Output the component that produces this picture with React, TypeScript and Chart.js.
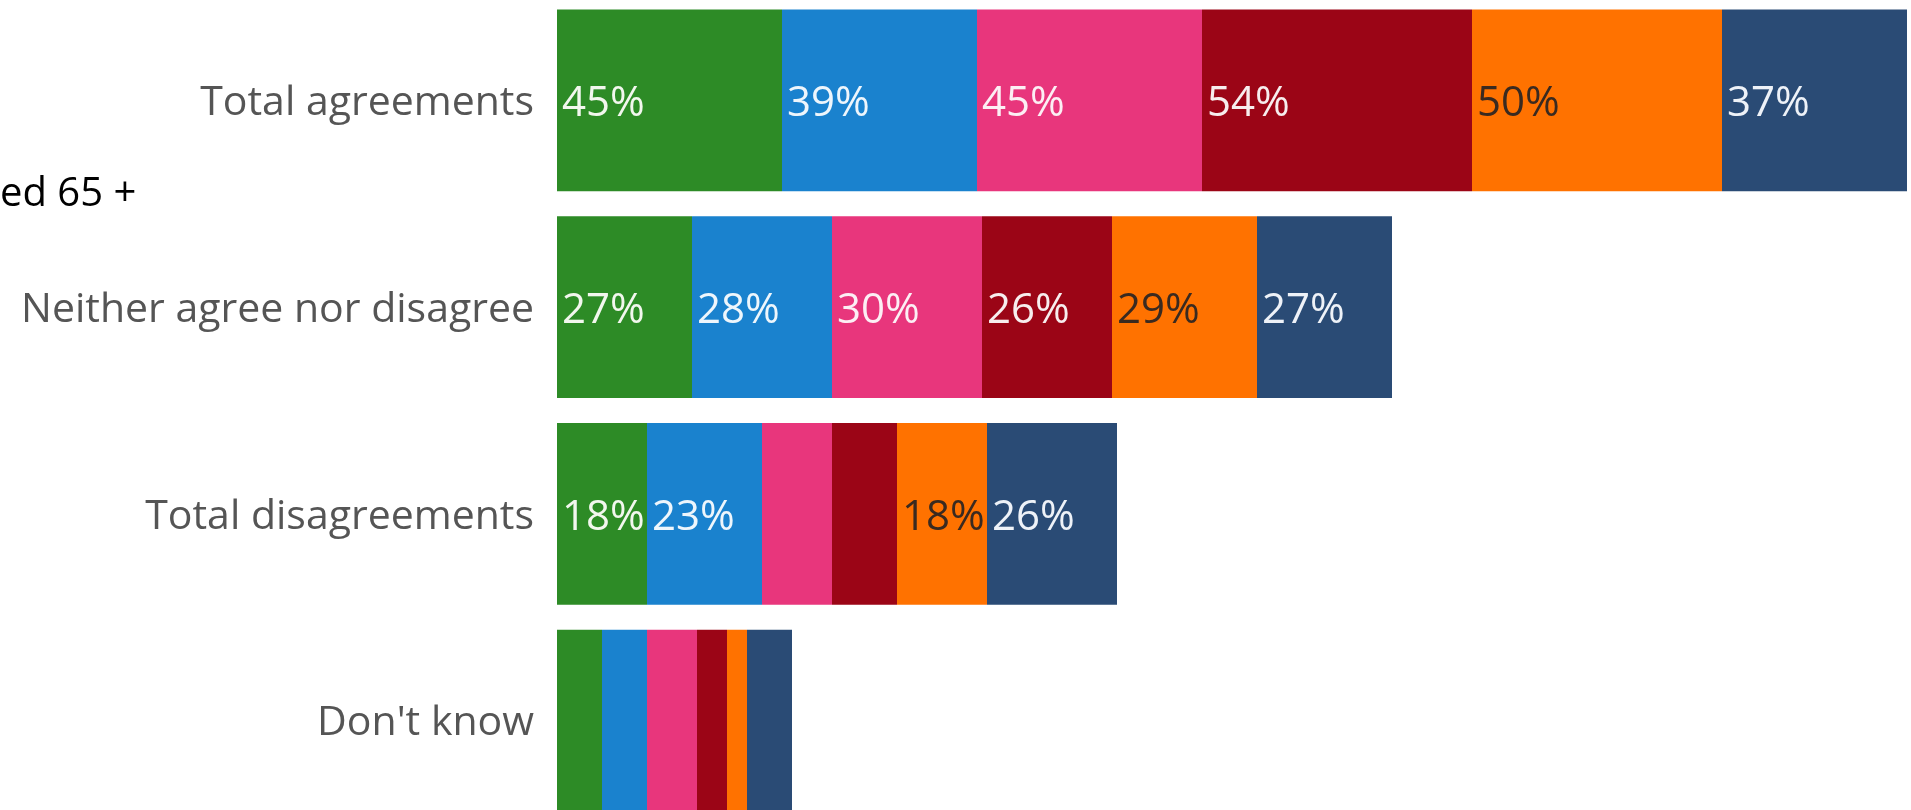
import React, { useEffect, useRef } from "react";
import { Chart, registerables } from "chart.js";

Chart.register(...registerables);

const categories = ["Total agreements", "Neither agree nor disagree", "Total disagreements", "Don't know"];

const seriesA = [45, 27, 18, 9];
const seriesB = [39, 28, 23, 9];
const seriesC = [45, 30, 14, 10];
const seriesD = [54, 26, 13, 6];
const seriesE = [50, 29, 18, 4];
const seriesF = [37, 27, 26, 9];

const seriesValues = [seriesA, seriesB, seriesC, seriesD, seriesE, seriesF];
const seriesColors = ["#2D8B26", "#1A82CE", "#E8367C", "#9B0516", "#FF7200", "#2A4B75"];
const labelColors = ["#F2F7EE", "#EEF6FC", "#FCEFF4", "#F7EEEE", "#3A2A20", "#EEF2F8"];

const legendFragment = "ed 65 +";

const FONT = "'Open Sans', 'Noto Sans', sans-serif";

const segmentLabels = {
  id: "segmentLabels",
  afterDatasetsDraw(chart: any) {
    const ctx = chart.ctx;
    ctx.save();
    ctx.font = `42px ${FONT}`;
    ctx.textBaseline = "middle";
    ctx.textAlign = "left";
    chart.data.datasets.forEach((ds: any, di: number) => {
      const meta = chart.getDatasetMeta(di);
      meta.data.forEach((el: any, i: number) => {
        const v = ds.data[i];
        const text = `${v}%`;
        const start = Math.min(el.x, el.base);
        const w = Math.abs(el.x - el.base);
        const tw = ctx.measureText(text).width;
        if (tw + 4 <= w) {
          ctx.fillStyle = labelColors[di];
          ctx.fillText(text, start + 5, el.y + 4);
        }
      });
    });
    ctx.restore();
  },
};

export default function App() {
  const canvasRef = useRef<HTMLCanvasElement | null>(null);

  useEffect(() => {
    if (!canvasRef.current) return;
    const chart = new Chart(canvasRef.current, {
      type: "bar",
      data: {
        labels: categories,
        datasets: seriesValues.map((vals, i) => ({
          label: `Series ${i + 1}`,
          data: vals,
          backgroundColor: seriesColors[i],
          borderWidth: 0,
          categoryPercentage: 1,
          barPercentage: 0.88,
        })),
      },
      options: {
        indexAxis: "y",
        animation: false,
        responsive: false,
        maintainAspectRatio: false,
        layout: { padding: { left: 0, right: 4, top: 0, bottom: 0 } },
        plugins: {
          legend: { display: false },
          tooltip: { enabled: false },
        },
        scales: {
          x: {
            stacked: true,
            min: 0,
            max: 270,
            display: false,
          },
          y: {
            stacked: true,
            grid: { display: false, drawTicks: false },
            border: { display: false },
            ticks: {
              padding: 23,
              labelOffset: 3,
              color: "#555555",
              font: { family: FONT, size: 41 },
            },
            afterFit(scale: any) {
              scale.width = 557;
              scale.paddingTop = 0;
              scale.paddingBottom = 0;
            },
          },
        },
      },
      plugins: [segmentLabels],
    });
    return () => chart.destroy();
  }, []);

  return (
    <div style={{ position: "fixed", left: 0, top: 0, width: 1911, height: 810, overflow: "hidden", background: "#fff" }}>
      <canvas
        ref={canvasRef}
        width={1911}
        height={827}
        style={{ position: "absolute", left: 0, top: -3, width: 1911, height: 827 }}
      />
      <div
        style={{
          position: "absolute",
          left: 0,
          top: 171,
          fontFamily: FONT,
          fontSize: 40,
          lineHeight: 1,
          color: "#000",
          whiteSpace: "nowrap",
        }}
      >
        {legendFragment}
      </div>
    </div>
  );
}
